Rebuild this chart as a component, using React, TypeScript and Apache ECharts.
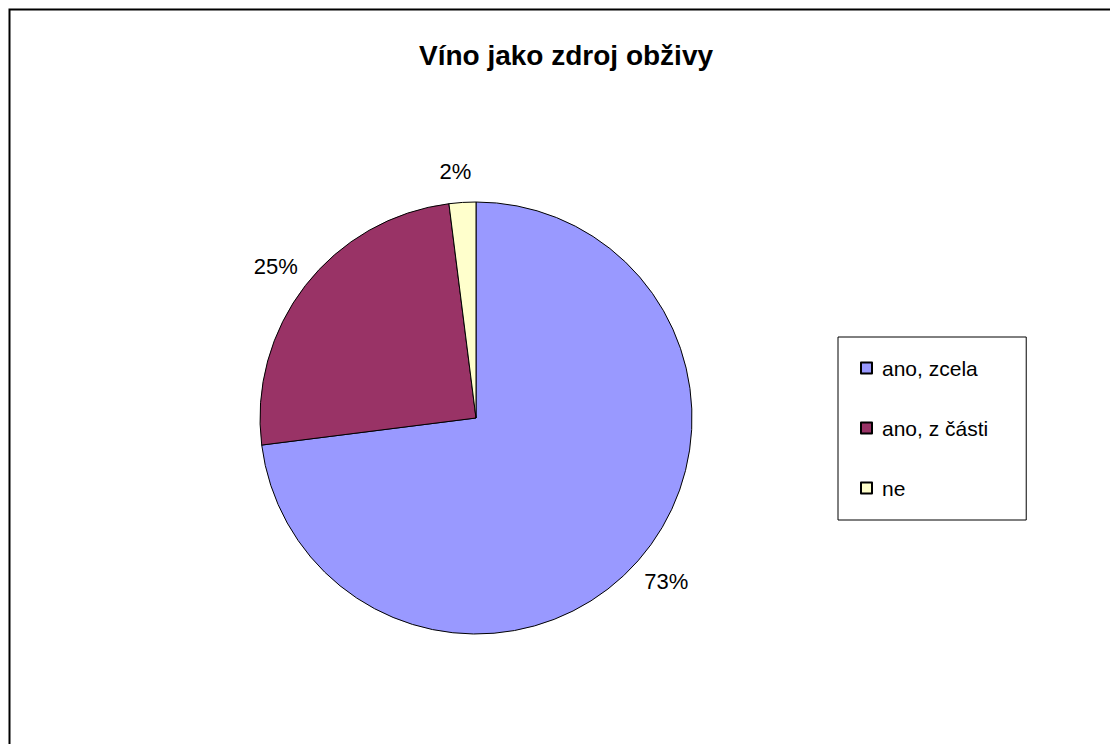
import React, { useEffect, useRef } from "react";
import * as echarts from "echarts";

const title = "Víno jako zdroj obživy";
const categories = ["ano, zcela", "ano, z části", "ne"];
const values = [73, 25, 2];
const colors = ["#9999FF", "#993366", "#FFFFCC"];

export default function App() {
  const ref = useRef<HTMLDivElement>(null);
  useEffect(() => {
    if (!ref.current) return;
    const chart = echarts.init(ref.current, undefined, { renderer: "svg" });
    const font = "'Liberation Sans', Arial, sans-serif";
    chart.setOption({
      animation: false,
      backgroundColor: "#ffffff",
      textStyle: { fontFamily: font },
      title: {
        text: title,
        left: 561,
        top: 36,
        textAlign: "center",
        textStyle: { fontFamily: font, fontSize: 28, fontWeight: "bold", color: "#000" },
      },
      graphic: [
        {
          type: "rect",
          shape: { x: 9.5, y: 9.5, width: 1120, height: 760 },
          style: { fill: "none", stroke: "#000", lineWidth: 2 },
          silent: true,
        },
      ],
      legend: {
        orient: "vertical",
        left: 838,
        top: 337,
        data: categories,
        icon: "rect",
        itemWidth: 11,
        itemHeight: 11,
        itemGap: 36,
        borderColor: "#000",
        borderWidth: 1,
        padding: [19, 38, 20, 22],
        textStyle: { fontFamily: font, fontSize: 21, color: "#000", lineHeight: 24, padding: [0, 0, 0, 5] },
      },
      series: [
        {
          type: "pie",
          center: [476, 418],
          radius: 216,
          startAngle: 90,
          clockwise: true,
          data: categories.map((c, i) => ({ name: c, value: values[i], itemStyle: { color: colors[i] } })),
          itemStyle: { borderColor: "#000", borderWidth: 1 },
          label: {
            show: true,
            position: "outside",
            formatter: "{d}%",
            fontFamily: font,
            fontSize: 22,
            color: "#000",
          },
          labelLine: { show: false, length: 31, length2: 0 },
          labelLayout: () => ({ align: "center", verticalAlign: "middle" }),
          emphasis: { disabled: true },
        },
      ],
    });
    return () => chart.dispose();
  }, []);
  return <div ref={ref} style={{ position: "fixed", left: 0, top: 0, width: 1110, height: 744 }} />;
}
